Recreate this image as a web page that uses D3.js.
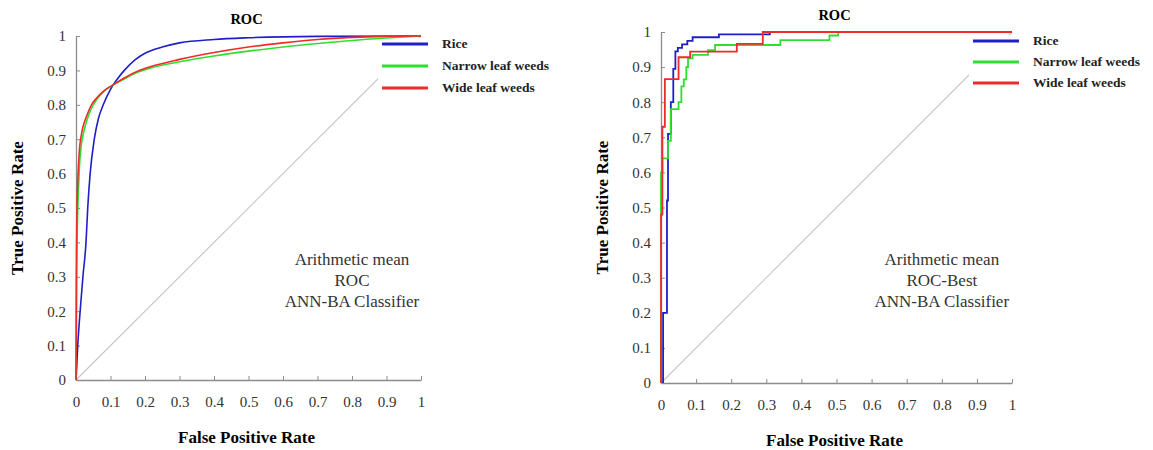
<!DOCTYPE html>
<html>
<head>
<meta charset="utf-8">
<script src="https://cdn.jsdelivr.net/npm/d3@7"></script>
<style>
  body { margin: 0; background: #fff; }
  svg { display: block; font-family: "Liberation Serif", "Times New Roman", serif; }
</style>
</head>
<body>
<svg id="chart" width="1153" height="450"></svg>
<script>
// axis ticks, shared by both panels
const ticks = [0, 0.1, 0.2, 0.3, 0.4, 0.5, 0.6, 0.7, 0.8, 0.9, 1];
const seriesNames = ["Rice", "Narrow leaf weeds", "Wide leaf weeds"];
const seriesColors = ["#1f1fc8", "#2ee02e", "#ee2a2a"];

// left panel: smooth mean ROC curves (FPR, TPR)
const riceMean = [[0,0],[0.005,0.1],[0.012,0.2],[0.02,0.3],[0.029,0.4],[0.034,0.5],[0.041,0.6],[0.053,0.7],[0.065,0.76],[0.079,0.8],[0.1,0.845],[0.12,0.875],[0.14,0.9],[0.17,0.93],[0.2,0.95],[0.25,0.968],[0.3,0.98],[0.4,0.99],[0.5,0.995],[0.7,0.999],[1,1]];
const narrowMean = [[0,0],[0.002,0.3],[0.004,0.45],[0.007,0.55],[0.01,0.62],[0.015,0.68],[0.02,0.71],[0.03,0.75],[0.045,0.79],[0.06,0.815],[0.08,0.838],[0.107,0.857],[0.14,0.875],[0.18,0.895],[0.22,0.908],[0.3,0.925],[0.4,0.942],[0.5,0.956],[0.6,0.968],[0.7,0.978],[0.8,0.987],[0.9,0.994],[1,1]];
const wideMean = [[0,0],[0.001,0.3],[0.003,0.5],[0.006,0.6],[0.01,0.67],[0.015,0.71],[0.02,0.735],[0.03,0.765],[0.045,0.8],[0.06,0.82],[0.08,0.84],[0.107,0.858],[0.14,0.878],[0.18,0.898],[0.22,0.912],[0.3,0.932],[0.4,0.952],[0.5,0.968],[0.6,0.98],[0.7,0.99],[0.8,0.996],[0.9,0.999],[1,1]];

// right panel: best-run ROC, step corners (y rises at previous x, then runs to this x)
const riceBest = [[0.006,0],[0.017,0.2],[0.02,0.52],[0.028,0.71],[0.035,0.8],[0.041,0.895],[0.048,0.945],[0.06,0.955],[0.075,0.965],[0.09,0.975],[0.165,0.985],[0.31,0.993],[1,1]];
const narrowBest = [[0,0],[0.004,0.6],[0.02,0.64],[0.028,0.69],[0.05,0.78],[0.058,0.8],[0.065,0.845],[0.072,0.865],[0.077,0.9],[0.09,0.925],[0.134,0.935],[0.154,0.948],[0.34,0.963],[0.48,0.977],[0.505,0.99],[1,1]];
const wideBest = [[0,0],[0.004,0.48],[0.011,0.73],[0.05,0.866],[0.083,0.928],[0.216,0.944],[0.29,0.966],[1,1]];

const svg = d3.select("#chart");

function panel(opts) {
    const g = svg.append("g");
    const x = d3.scaleLinear().domain([0, 1]).range([opts.left, opts.right]);
    const y = d3.scaleLinear().domain([0, 1]).range([opts.bottom, opts.top]);

    // chance diagonal
    g.append("line")
        .attr("x1", x(0)).attr("y1", y(0))
        .attr("x2", x(1)).attr("y2", y(1))
        .attr("stroke", "#c8c8c8").attr("stroke-width", 1.2);

    const xAxis = g.append("g")
        .attr("transform", `translate(0,${opts.bottom})`)
        .call(d3.axisBottom(x).tickValues(ticks).tickFormat(d3.format("")).tickSizeInner(-4).tickSizeOuter(0).tickPadding(16));
    const yAxis = g.append("g")
        .attr("transform", `translate(${opts.left},0)`)
        .call(d3.axisLeft(y).tickValues(ticks).tickFormat(d3.format("")).tickSizeInner(-4).tickSizeOuter(0).tickPadding(10));
    [xAxis, yAxis].forEach(a => {
        a.select(".domain").attr("stroke", "#8c8c8c").attr("stroke-width", 1.3);
        a.selectAll(".tick line").attr("stroke", "#8c8c8c");
        a.selectAll(".tick text").attr("fill", "#333").style("font-size", "15px")
            .style("font-family", "Liberation Serif, serif");
    });

    // legend with white background hiding the diagonal (drawn before curves so y=1 stays visible)
    const lg = g.append("g");
    lg.append("rect")
        .attr("x", opts.legend.x - 4).attr("y", opts.legend.y - 6)
        .attr("width", 182).attr("height", 62).attr("fill", "#fff");

    const line = d3.line().x(d => x(d[0])).y(d => y(d[1])).curve(opts.curve);
    opts.series.forEach((s, i) => {
        g.append("path").datum(s)
            .attr("fill", "none")
            .attr("stroke", seriesColors[i])
            .attr("stroke-width", opts.lineWidth)
            .attr("d", line);
    });

    seriesNames.forEach((name, i) => {
        const ly = opts.legend.y + i * opts.legend.step;
        lg.append("line")
            .attr("x1", opts.legend.x).attr("x2", opts.legend.x + 46)
            .attr("y1", ly).attr("y2", ly)
            .attr("stroke", seriesColors[i]).attr("stroke-width", 3);
        lg.append("text")
            .attr("x", opts.legend.x + 60).attr("y", ly + 4)
            .attr("font-size", 13.5).attr("font-weight", "bold").attr("fill", "#222")
            .text(name);
    });

    g.append("text")
        .attr("x", (opts.left + opts.right) / 2 - 2).attr("y", opts.top - 12)
        .attr("text-anchor", "middle").attr("font-size", 14.5).attr("font-weight", "bold")
        .text("ROC");

    g.append("text")
        .attr("x", (opts.left + opts.right) / 2 - 2).attr("y", opts.bottom + 63)
        .attr("text-anchor", "middle").attr("font-size", 17).attr("font-weight", "bold")
        .text("False Positive Rate");

    g.append("text")
        .attr("transform", `translate(${opts.left - 53},${(opts.top + opts.bottom) / 2}) rotate(-90)`)
        .attr("text-anchor", "middle").attr("font-size", 17).attr("font-weight", "bold")
        .text("True Positive Rate");

    opts.note.forEach((t, i) => {
        g.append("text")
            .attr("x", x(0.8)).attr("y", y(0.335) + i * 21)
            .attr("text-anchor", "middle").attr("font-size", 17).attr("fill", "#333")
            .text(t);
    });
}

panel({
    left: 76, right: 421, top: 36, bottom: 380,
    series: [riceMean, narrowMean, wideMean],
    curve: d3.curveMonotoneX, lineWidth: 1.6,
    legend: { x: 382, y: 44, step: 22 },
    note: ["Arithmetic mean", "ROC", "ANN-BA Classifier"]
});

panel({
    left: 661, right: 1012, top: 32, bottom: 383,
    series: [riceBest, narrowBest, wideBest],
    curve: d3.curveStepBefore, lineWidth: 1.8,
    legend: { x: 973, y: 41, step: 21 },
    note: ["Arithmetic mean", "ROC-Best", "ANN-BA Classifier"]
});
</script>
</body>
</html>
